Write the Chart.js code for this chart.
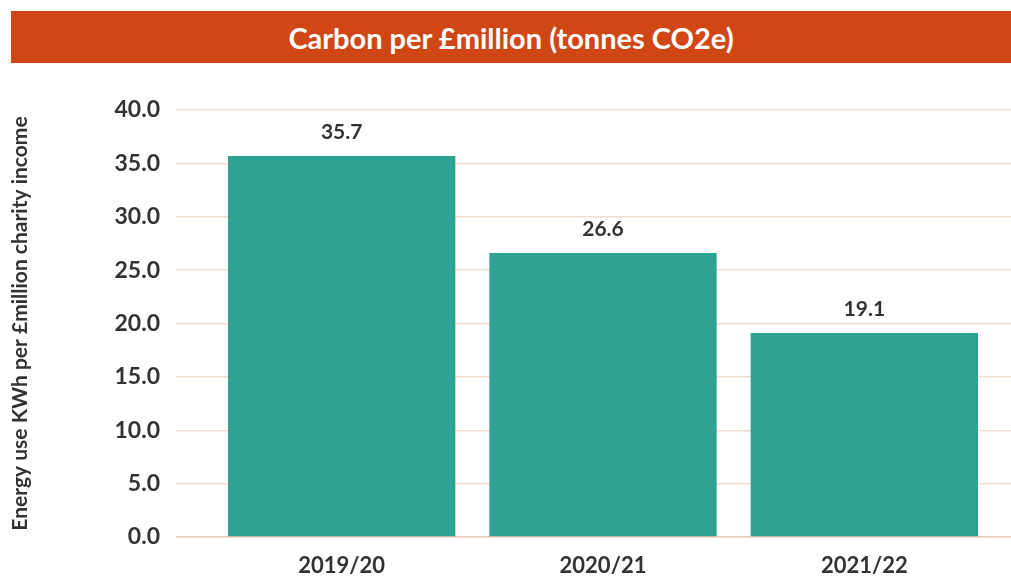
<!DOCTYPE html>
<html>
<head>
<meta charset="utf-8">
<script src="https://cdn.jsdelivr.net/npm/chart.js@4.4.0/dist/chart.umd.min.js"></script>
<style>
  html, body { margin: 0; padding: 0; background: #fff; }
  #wrap { position: relative; width: 1011px; height: 576px; }
  #title {
    position: absolute; left: 11px; top: 11px; width: 1000px; height: 52px;
    background: #d14615; color: #fff;
    font: bold 29px Lato, sans-serif;
    display: flex; align-items: center; justify-content: center;
  }
  canvas { position: absolute; left: 0; top: 0; }
</style>
</head>
<body>
<div id="wrap">
  <canvas id="chart" width="1011" height="576"></canvas>
  <div id="title">Carbon per £million (tonnes CO2e)</div>
</div>
<script>
// ── Data ──────────────────────────────────────────────────────
const YEARS  = ['2019/20', '2020/21', '2021/22'];
const CARBON = [35.7, 26.6, 19.1];

const TEAL  = '#2ea394';
const TEXT  = '#333333';
const GRID  = '#f6dcd0';
const ZERO  = '#efc4b0';

Chart.defaults.font.family = 'Lato, sans-serif';
Chart.defaults.font.weight = 'bold';
Chart.defaults.color = TEXT;

// value labels above each bar
const valueLabels = {
  id: 'valueLabels',
  afterDatasetsDraw(chart) {
    const ctx = chart.ctx;
    const meta = chart.getDatasetMeta(0);
    ctx.save();
    ctx.font = 'bold 21px Lato, sans-serif';
    ctx.fillStyle = TEXT;
    ctx.textAlign = 'center';
    ctx.textBaseline = 'middle';
    meta.data.forEach((bar, i) => {
      ctx.fillText(CARBON[i].toFixed(1), bar.x, bar.y - 24);
    });
    ctx.restore();
  },
};

const yTicks = { min: 0, max: 40 };

new Chart(document.getElementById('chart').getContext('2d'), {
  type: 'bar',
  data: {
    labels: YEARS,
    datasets: [{
      data: CARBON,
      backgroundColor: TEAL,
      borderWidth: 0,
      categoryPercentage: 1,
      barPercentage: 0.87,
    }],
  },
  options: {
    responsive: false,
    animation: false,
    layout: { padding: { top: 110, left: 0, right: 0, bottom: 0 } },
    plugins: {
      legend: { display: false },
      tooltip: { enabled: false },
    },
    scales: {
      x: {
        grid: { display: false, drawTicks: false },
        border: { display: false },
        ticks: { color: TEXT, padding: 16, font: { size: 22, weight: 'bold' } },
        afterFit: s => { s.height = 39; },
      },
      y: {
        ...yTicks,
        ticks: {
          stepSize: 5, padding: 16, color: TEXT,
          font: { size: 23, weight: 'bold' },
          callback: v => v.toFixed(1),
        },
        grid: {
          color: c => c.tick && c.tick.value === 0 ? ZERO : GRID,
          tickColor: c => c.tick && c.tick.value === 0 ? ZERO : GRID,
          lineWidth: 1.5,
          tickLength: 35,
        },
        border: { display: false },
        title: {
          display: true,
          text: 'Energy use KWh per £million charity income',
          color: TEXT,
          font: { size: 21, weight: 'bold' },
          padding: { top: 8 },
        },
        afterFit: s => { s.width = 211; },
      },
      y2: {
        ...yTicks,
        position: 'right',
        ticks: { display: false, stepSize: 5 },
        grid: {
          drawOnChartArea: false,
          tickColor: c => c.tick && c.tick.value === 0 ? ZERO : GRID,
          lineWidth: 1.5,
          tickLength: 16,
        },
        border: { display: false },
        afterFit: s => { s.width = 16; },
      },
    },
  },
  plugins: [valueLabels],
});
</script>
</body>
</html>
